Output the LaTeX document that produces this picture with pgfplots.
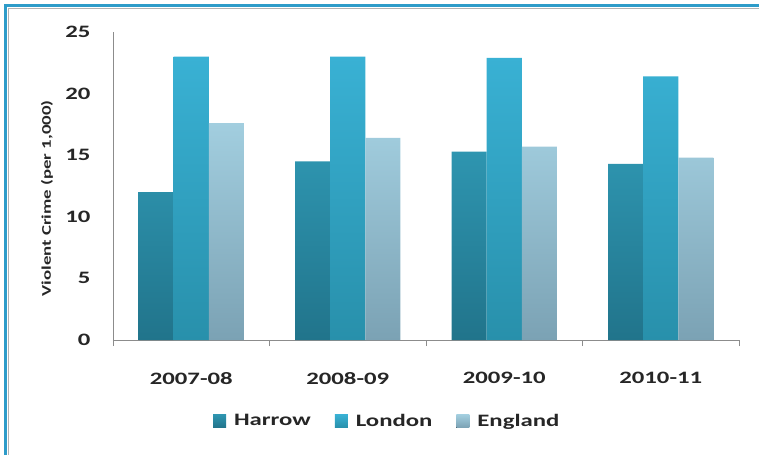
\documentclass[border=0pt]{standalone}
\usepackage{pgfplots}
\pgfplotsset{compat=1.18}
\usepackage{fontspec}
\setmainfont{Carlito}[FakeStretch=1.42]
\definecolor{harT}{HTML}{2E95B0}
\definecolor{harB}{HTML}{21748B}
\definecolor{lonT}{HTML}{39B1D4}
\definecolor{lonB}{HTML}{2890AB}
\definecolor{engT}{HTML}{A2CEDF}
\definecolor{engB}{HTML}{7BA2B4}
\definecolor{frameblue}{HTML}{2E9CC9}
\definecolor{axgray}{HTML}{8C8C8C}
\begin{document}
\begin{tikzpicture}
\path[use as bounding box] (-113bp,-115bp) rectangle (646bp,340bp);
\fill[frameblue] (-109bp,-115bp) rectangle (-106bp,336bp);
\fill[frameblue] (-109bp,333bp) rectangle (646bp,336bp);
\draw[gray!60,line width=0.6bp] (-104.5bp,-115bp) -- (-104.5bp,331.5bp) -- (646bp,331.5bp);
\begin{axis}[
  scale only axis, width=626bp, height=308bp,
  xmin=-0.5, xmax=3.5, ymin=0, ymax=25,
  ybar=0pt, bar width=0.224,
  axis x line*=bottom, axis y line*=left,
  axis line style={axgray, line width=0.8bp},
  xtick={0,1,2,3},
  xticklabels={2007-08,2008-09,2009-10,2010-11},
  x tick label style={font=\fontsize{17.5}{20}\selectfont\bfseries, text=black!85, yshift=-29bp},
  extra x ticks={-0.5,0.5,1.5,2.5,3.5},
  extra x tick labels={},
  extra x tick style={major tick length=6bp, tick style={axgray,line width=0.8bp}},
  ytick={0,5,10,15,20,25},
  y tick label style={font=\fontsize{17.5}{20}\selectfont\bfseries, text=black!85, xshift=-19bp},
  /pgf/number format/assume math mode=true,
  tick align=outside,
  major tick length=0pt,
  ytick style={draw=none},
  extra y ticks={0,5,10,15,20,25}, extra y tick labels={},
  extra y tick style={major tick length=5bp, tick style={axgray,line width=0.8bp}},
  ylabel={Violent Crime (per 1,000)},
  ylabel style={font=\fontsize{13.3}{16}\selectfont\bfseries, text=black!85, at={(axis description cs:-0.1054,0.46)}, anchor=center},
  legend columns=3,
  legend style={at={(0.438,-0.263)}, anchor=center, draw=none, fill=none,
    font=\fontsize{17.5}{20}\selectfont\bfseries, text=black!85,
    /tikz/every even column/.append style={column sep=22bp},
    /tikz/every odd column/.append style={column sep=6bp}},
  legend image code/.code={\fill[#1] (0bp,-6.5bp) rectangle (13bp,6.5bp);},
]
\addplot[draw=none, top color=harT, bottom color=harB] coordinates {(0,12.0) (1,14.5) (2,15.3) (3,14.3)};
\addplot[draw=none, top color=lonT, bottom color=lonB] coordinates {(0,23.0) (1,23.0) (2,22.9) (3,21.4)};
\addplot[draw=none, top color=engT, bottom color=engB] coordinates {(0,17.6) (1,16.4) (2,15.7) (3,14.8)};
\legend{Harrow,London,England}
\end{axis}
\end{tikzpicture}
\end{document}
